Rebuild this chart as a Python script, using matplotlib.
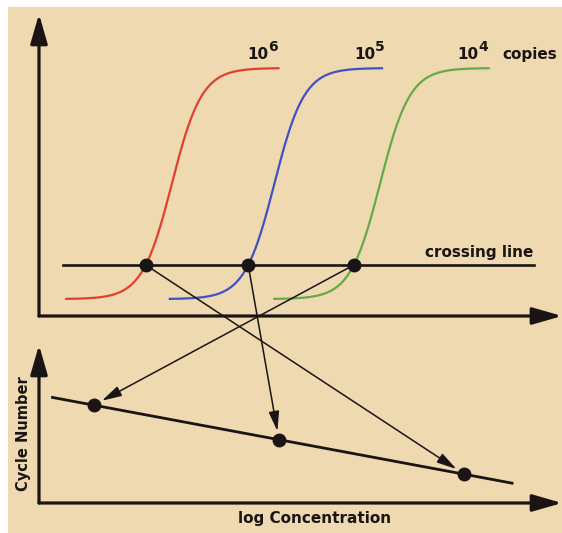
import numpy as np
import matplotlib
matplotlib.use("Agg")
import matplotlib.pyplot as plt
from matplotlib.patches import Rectangle, ConnectionPatch

plt.rcParams['font.family'] = ['DejaVu Sans']

# ---- data ----
copies_base = ['10', '10', '10']
copies_exp = ['6', '5', '4']
log_conc = [6, 5, 4]                 # log10 copies
ct_values = [10.2, 20.0, 30.1]       # threshold cycle of each curve
curve_start = [2.5, 12.4, 22.4]      # first cycle drawn
curve_end = [23.0, 32.9, 43.1]       # last cycle drawn
curve_colors = ['#E2402E', '#3F52C2', '#63AB46']
baseline = 0.056                     # fluorescence baseline
plateau = 0.821                      # fluorescence plateau
threshold = 0.169                    # crossing line level
steepness = 1.43                     # cycles
crossing_span = [2.3, 47.3]          # cycles
fit_span = [3.776, 6.26]             # log concentration

BG = '#EFD9B1'
INK = '#1A1414'

fig = plt.figure(figsize=(5.62, 5.33), dpi=100, facecolor='white')
fig.add_artist(Rectangle((8 / 562, 0), 1, 1 - 7 / 533, transform=fig.transFigure,
                         facecolor=BG, edgecolor='none', zorder=0))

W, H = 562, 533
ax_top = fig.add_axes([39 / W, 1 - 316 / H, (W - 39) / W, (316 - 14) / H])
ax_bot = fig.add_axes([39 / W, 1 - 503 / H, (W - 39) / W, (503 - 345) / H])
for ax in (ax_top, ax_bot):
    ax.set_facecolor('none')
    ax.axis('off')
    for xy in [(0, 1), (1, 0)]:
        ax.annotate('', xy=xy, xytext=(0, 0), xycoords='axes fraction',
                    textcoords='axes fraction', annotation_clip=False,
                    arrowprops=dict(arrowstyle='-|>,head_length=0.9,head_width=0.26',
                                    mutation_scale=20, lw=2.3, color=INK,
                                    shrinkA=0, shrinkB=0))

ax_top.set_xlim(0, 50)
ax_top.set_ylim(0, 1)
ax_bot.set_xlim(3.703, 6.530)
ax_bot.set_ylim(1.84, 47.4)

# amplification curves
frac = (threshold - baseline) / (plateau - baseline)
logit = np.log(frac / (1 - frac))
for ct, c0, c1, col in zip(ct_values, curve_start, curve_end, curve_colors):
    mid = ct - steepness * logit
    c = np.linspace(c0, c1, 300)
    f = baseline + (plateau - baseline) / (1 + np.exp(-(c - mid) / steepness))
    ax_top.plot(c, f, color=col, lw=1.6, solid_capstyle='butt', zorder=2)

# crossing line
ax_top.plot(crossing_span, [threshold, threshold], color=INK, lw=1.9, zorder=3)
ax_top.plot(ct_values, [threshold] * 3, 'o', color=INK, ms=9, zorder=4)

# labels
label_x = [19.9, 30.1, 40.0]
for lx, b, e in zip(label_x, copies_base, copies_exp):
    ax_top.text(lx, 0.851, b, fontsize=11, fontweight='bold', color=INK,
                ha='left', va='baseline')
    ax_top.annotate(e, xy=(lx, 0.851), xytext=(15.3, 5.5), textcoords='offset points',
                    fontsize=10, fontweight='bold', color=INK, ha='left', va='baseline')
ax_top.text(44.3, 0.851, 'copies', fontsize=11, fontweight='bold', color=INK,
            ha='left', va='baseline')
ax_top.text(47.3, 0.195, 'crossing line', fontsize=11, fontweight='bold', color=INK,
            ha='right', va='baseline')

# standard curve
coef = np.polyfit(log_conc, ct_values, 1)
xs = np.array(fit_span)
ax_bot.plot(xs, np.polyval(coef, xs), color=INK, lw=2.0, zorder=3)
ax_bot.plot(log_conc, ct_values, 'o', color=INK, ms=9, zorder=4)

# arrows from crossing points to standard curve
for ct, lc in zip(ct_values, log_conc):
    con = ConnectionPatch(xyA=(ct, threshold), coordsA=ax_top.transData,
                          xyB=(lc, ct), coordsB=ax_bot.transData,
                          arrowstyle='-|>,head_length=1.2,head_width=0.32',
                          mutation_scale=10, shrinkA=0, shrinkB=6.5,
                          lw=1.1, color=INK, zorder=5)
    fig.add_artist(con)

fig.text(24 / W, 1 - 434 / H, 'Cycle Number', rotation=90, fontsize=10.5,
         fontweight='bold', color=INK, ha='center', va='center')
fig.text(315 / W, 1 - 523 / H, 'log Concentration', fontsize=11,
         fontweight='bold', color=INK, ha='center', va='baseline')

fig.savefig('out.png', dpi=100, facecolor=fig.get_facecolor())
